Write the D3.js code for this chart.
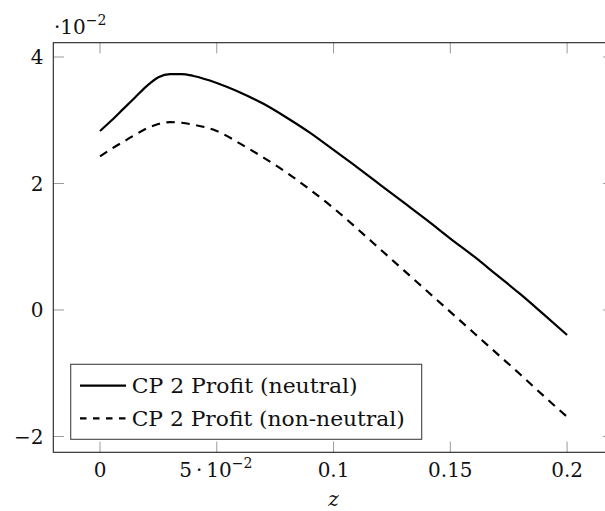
<!DOCTYPE html>
<html><head><meta charset="utf-8">
<script src="https://cdn.jsdelivr.net/npm/d3@7"></script>
<style>
html,body{margin:0;padding:0;background:#fff;}
svg{display:block;}
</style></head>
<body>
<svg id="chart" width="605" height="511"></svg>
<script>
// z values
const zValues = [0, 0.005, 0.01, 0.015, 0.02, 0.025, 0.03, 0.035, 0.04, 0.05, 0.06, 0.07, 0.08, 0.09, 0.1, 0.11, 0.12, 0.13, 0.14, 0.15, 0.16, 0.17, 0.18, 0.19, 0.2];
// profits in units of 1e-2
const profitNeutral = [2.83, 3.0, 3.18, 3.36, 3.54, 3.68, 3.73, 3.73, 3.70, 3.59, 3.44, 3.26, 3.04, 2.80, 2.53, 2.26, 1.98, 1.70, 1.42, 1.13, 0.85, 0.55, 0.25, -0.07, -0.395];
const profitNonNeutral = [2.43, 2.55, 2.66, 2.77, 2.87, 2.94, 2.97, 2.96, 2.93, 2.83, 2.63, 2.41, 2.17, 1.90, 1.61, 1.29, 0.96, 0.63, 0.30, -0.03, -0.36, -0.69, -1.02, -1.36, -1.69];
const seriesNames = ["CP 2 Profit (neutral)", "CP 2 Profit (non-neutral)"];
const xTicks = [0, 0.05, 0.1, 0.15, 0.2];
const xTickLabels = ["0", "5\u2009·\u200910", "0.1", "0.15", "0.2"];
const yTicks = [-2, 0, 2, 4];
const yTickLabels = ["\u22122", "0", "2", "4"];

const FONT = "'DejaVu Serif', 'Liberation Serif', 'Times New Roman', serif";
const svg = d3.select("#chart").style("font-family", FONT);
const L = 53.3, R = 613.8, T = 42.7, B = 452.3;
const x = d3.scaleLinear().domain([-0.02, 0.22]).range([L, R]);
const y = d3.scaleLinear().domain([-2.25, 4.226]).range([B, T]);
const fs = 20;

// ticks (inward, all four sides)
const tickLen = 10.7;
const tg = svg.append("g").attr("stroke", "#9a9a9a").attr("stroke-width", 1);
xTicks.forEach(t => {
  tg.append("line").attr("x1", x(t)).attr("x2", x(t)).attr("y1", B).attr("y2", B - tickLen);
  tg.append("line").attr("x1", x(t)).attr("x2", x(t)).attr("y1", T).attr("y2", T + tickLen);
});
yTicks.forEach(t => {
  tg.append("line").attr("x1", L).attr("x2", L + tickLen).attr("y1", y(t)).attr("y2", y(t));
  tg.append("line").attr("x1", R).attr("x2", R - tickLen).attr("y1", y(t)).attr("y2", y(t));
});

// frame
svg.append("rect").attr("x", L).attr("y", T).attr("width", R - L).attr("height", B - T)
  .attr("fill", "none").attr("stroke", "#222").attr("stroke-width", 1.1);

// curves
const line = d3.line().x((d, i) => x(zValues[i])).y(d => y(d)).curve(d3.curveMonotoneX);
svg.append("path").datum(profitNeutral).attr("d", line).attr("fill", "none")
  .attr("stroke", "#000").attr("stroke-width", 2.2).attr("stroke-linejoin", "round");
svg.append("path").datum(profitNonNeutral).attr("d", line).attr("fill", "none")
  .attr("stroke", "#000").attr("stroke-width", 2.2).attr("stroke-dasharray", "8.5,6.5");

function txt(sel) {
  return sel.append("text").style("font-family", FONT).attr("fill", "#111").attr("font-size", fs);
}

// x tick labels
xTicks.forEach((t, i) => {
  const tx = txt(svg).attr("x", x(t)).attr("y", 477).attr("text-anchor", "middle").text(xTickLabels[i]);
  if (i === 1) {
    tx.append("tspan").attr("dy", -9).attr("font-size", 14).text("\u22122");
    tx.attr("x", x(t) - 1);
  }
});
// y tick labels
yTicks.forEach((t, i) => {
  txt(svg).attr("x", 43.5).attr("y", y(t) + 7.5).attr("text-anchor", "end").text(yTickLabels[i]);
});
// scale label
const sc = txt(svg).attr("x", 54).attr("y", 33.5).text("·10");
sc.append("tspan").attr("dy", -9).attr("font-size", 14).text("\u22122");

// axis label
txt(svg).attr("x", x(0.1)).attr("y", 506).attr("text-anchor", "middle")
  .attr("font-style", "italic").text("z");

// legend
const lg = svg.append("g");
lg.append("rect").attr("x", 70.7).attr("y", 364.3).attr("width", 351).attr("height", 75)
  .attr("fill", "#fff").attr("stroke", "#444").attr("stroke-width", 1.1);
const rows = [{y: 385.7, dash: null, tl: 226}, {y: 418.3, dash: "6.5,6.5", tl: 273}];
rows.forEach((r, i) => {
  const ln = lg.append("line").attr("x1", 80).attr("x2", 126).attr("y1", r.y).attr("y2", r.y)
    .attr("stroke", "#000").attr("stroke-width", 2.2);
  if (r.dash) ln.attr("stroke-dasharray", r.dash);
  txt(lg).attr("x", 131.7).attr("y", r.y + 7.5)
    .attr("textLength", r.tl).attr("lengthAdjust", "spacingAndGlyphs").text(seriesNames[i]);
});
</script>
</body></html>
